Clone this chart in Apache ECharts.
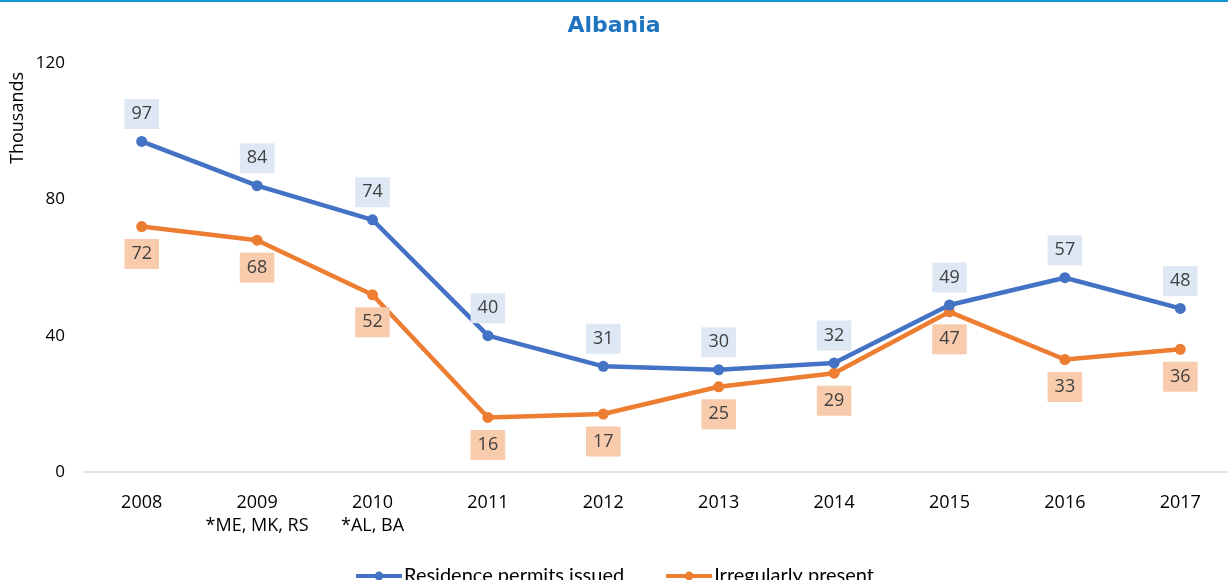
<!DOCTYPE html>
<html>
<head>
<meta charset="utf-8">
<title>Albania</title>
<script src="https://cdn.jsdelivr.net/npm/echarts@6/dist/echarts.min.js"></script>
<style>
  html, body { margin: 0; padding: 0; background: #ffffff; }
  #chart { width: 1228px; height: 580px; }
</style>
</head>
<body>
<div id="chart"></div>
<script>
// Years on the category axis; some carry a footnote line below the year
const years = ['2008', '2009', '2010', '2011', '2012', '2013', '2014', '2015', '2016', '2017'];
const yearNotes = ['', '*ME, MK, RS', '*AL, BA', '', '', '', '', '', '', ''];

// Values in thousands
const residencePermits = [97, 84, 74, 40, 31, 30, 32, 49, 57, 48];
const irregularlyPresent = [72, 68, 52, 16, 17, 25, 29, 47, 33, 36];

const seriesNames = ['Residence permits issued', 'Irregularly present'];
const yTicks = [0, 40, 80, 120];
const yAxisTitle = 'Thousands';

const FONT = '"Open Sans", "Noto Sans", sans-serif';
const BLUE = '#4472c4';
const ORANGE = '#ed7d31';

const categoryLabels = years.map((y, i) => yearNotes[i] ? y + '\n' + yearNotes[i] : y);

const chart = echarts.init(document.getElementById('chart'), null, { renderer: 'canvas' });

function labelStyle(bg, pos) {
  return {
    show: true,
    position: pos,
    distance: 7,
    color: '#404040',
    fontFamily: FONT,
    fontSize: 18,
    lineHeight: 20,
    backgroundColor: bg,
    padding: [5, 7, 5, 7]
  };
}

chart.setOption({
  animation: false,
  backgroundColor: '#ffffff',
  graphic: [
    {
      type: 'rect',
      left: 0,
      top: 0,
      shape: { width: 1228, height: 2 },
      style: { fill: '#1196d6' },
      silent: true
    },
    {
      type: 'text',
      x: 18,
      y: 118,
      rotation: Math.PI / 2,
      style: {
        text: yAxisTitle,
        fill: '#000000',
        font: '18px ' + FONT,
        textAlign: 'center',
        textVerticalAlign: 'middle'
      },
      silent: true
    }
  ],
  title: {
    text: 'Albania',
    left: 'center',
    top: 10,
    textStyle: {
      color: '#1f74c0',
      fontFamily: '"DejaVu Sans", sans-serif',
      fontWeight: 'bold',
      fontSize: 22
    }
  },
  legend: {
    data: seriesNames,
    top: 561,
    left: 'center',
    itemWidth: 46,
    itemHeight: 11,
    itemGap: 40,
    lineStyle: { width: 4 },
    textStyle: { color: '#000000', fontFamily: 'Lato, sans-serif', fontSize: 20, padding: [0, 0, 0, -3] }
  },
  grid: {
    left: 84,
    top: 63,
    width: 1154,
    height: 409,
    outerBoundsMode: 'none',
    containLabel: false
  },
  xAxis: {
    type: 'category',
    data: categoryLabels,
    boundaryGap: true,
    axisLine: { show: true, lineStyle: { color: '#d9d9d9', width: 1.5 } },
    axisTick: { show: false },
    axisLabel: {
      color: '#000000',
      fontFamily: FONT,
      fontSize: 18,
      lineHeight: 23,
      margin: 19,
      interval: 0
    },
    splitLine: { show: false }
  },
  yAxis: {
    type: 'value',
    min: yTicks[0],
    max: yTicks[yTicks.length - 1],
    interval: yTicks[1] - yTicks[0],
    axisLine: { show: false },
    axisTick: { show: false },
    splitLine: { show: false },
    axisLabel: {
      color: '#000000',
      fontFamily: FONT,
      fontSize: 17,
      margin: 19
    }
  },
  series: [
    {
      name: seriesNames[0],
      type: 'line',
      data: residencePermits,
      symbol: 'circle',
      symbolSize: 11,
      lineStyle: { color: BLUE, width: 4.5 },
      itemStyle: { color: BLUE },
      label: labelStyle('#dee8f5', 'top'),
      z: 3
    },
    {
      name: seriesNames[1],
      type: 'line',
      data: irregularlyPresent,
      symbol: 'circle',
      symbolSize: 11,
      lineStyle: { color: ORANGE, width: 4.5 },
      itemStyle: { color: ORANGE },
      label: labelStyle('#f8cbad', 'bottom'),
      z: 2
    }
  ]
});
</script>
</body>
</html>
